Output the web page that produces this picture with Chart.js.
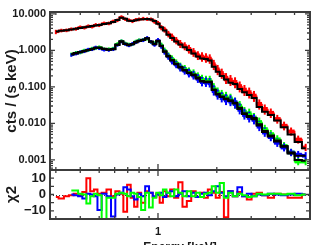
<!DOCTYPE html>
<html><head><meta charset="utf-8">
<script src="https://cdn.jsdelivr.net/npm/chart.js@4.4.1/dist/chart.umd.min.js"></script>
<style>
html,body{margin:0;padding:0;background:#fff;overflow:hidden;width:327px;height:245px;}
canvas{position:absolute;left:0;}
#top{top:0;}
#bot{top:168px;}
</style></head><body>
<canvas id="top" width="327" height="172"></canvas>
<canvas id="bot" width="327" height="100"></canvas>
<script>
// ---------- data ----------
const energies = [0.30,0.32,0.34,0.36,0.38,0.40,0.42,0.44,0.46,0.48,
  0.50,0.53,0.56,0.59,0.62,0.65,0.68,0.71,0.74,0.77,
  0.80,0.84,0.88,0.92,0.96,1.00,1.04,1.08,1.13,1.18,
  1.24,1.30,1.37,1.44,1.52,1.60,1.68,1.76,1.84,1.93,
  2.02,2.12,2.23,2.35,2.48,2.62,2.77,2.93,3.10,3.30,
  3.52,3.78,4.08,4.42,4.80,5.22,5.70];

const redCounts = [3.2,3.5,3.55,3.8,3.9,4.3,4.2,4.6,4.5,5.0,
  4.9,5.5,5.5,6.2,6.7,8.2,7.2,6.7,6.3,6.9,
  7.1,7.4,7.2,7.1,6.2,5.6,4.2,3.7,2.8,2.3,
  1.85,1.5,1.3,1.08,0.88,0.72,0.66,0.62,0.58,0.40,
  0.29,0.23,0.17,0.15,0.13,0.10,0.080,0.068,0.055,0.033,
  0.024,0.019,0.013,0.0085,0.0060,0.0036,0.0022];

const greenCounts = [null,null,null,0.78,0.86,0.88,0.99,1.02,1.12,1.15,
  1.22,1.08,1.08,1.12,1.5,1.8,1.55,1.45,1.48,1.75,
  1.9,1.95,2.1,1.7,1.55,1.8,1.40,1.0,0.72,0.58,
  0.45,0.36,0.31,0.26,0.23,0.19,0.16,0.15,0.15,0.092,
  0.07,0.06,0.052,0.046,0.036,0.029,0.020,0.018,0.014,0.0105,
  0.0068,0.0050,0.0036,0.0024,0.0016,0.0009,0.0009];

const blueCounts = [null,null,null,0.75,0.82,0.90,0.95,1.05,1.08,1.2,
  1.15,1.05,1.03,1.08,1.42,1.75,1.5,1.38,1.52,1.68,
  1.85,1.9,2.2,1.72,1.45,1.9,1.3,0.92,0.68,0.52,
  0.41,0.34,0.28,0.24,0.21,0.17,0.14,0.135,0.13,0.08,
  0.062,0.052,0.045,0.042,0.036,0.025,0.018,0.015,0.013,0.0085,
  0.0058,0.0043,0.0030,0.0022,0.0016,0.0014,0.0013];

const redModel = [3.3,3.45,3.6,3.75,3.95,4.15,4.3,4.45,4.65,4.85,
  5.0,5.3,5.6,6.0,6.8,7.9,7.4,6.5,6.4,6.7,
  7.0,7.2,7.3,7.0,6.4,5.4,4.3,3.5,2.7,2.2,
  1.75,1.45,1.22,1.02,0.82,0.68,0.60,0.58,0.53,0.36,
  0.26,0.20,0.16,0.13,0.12,0.088,0.072,0.060,0.050,0.028,
  0.021,0.017,0.012,0.0078,0.0050,0.0031,0.0021];

const greenModel = [null,null,null,0.80,0.85,0.90,0.97,1.03,1.10,1.18,
  1.20,1.12,1.06,1.10,1.45,1.78,1.52,1.40,1.50,1.70,
  1.85,1.95,2.15,1.75,1.50,1.85,1.35,0.95,0.70,0.55,
  0.43,0.35,0.29,0.25,0.22,0.18,0.145,0.14,0.14,0.085,
  0.065,0.055,0.048,0.043,0.037,0.027,0.019,0.016,0.014,0.0095,
  0.0062,0.0047,0.0034,0.0024,0.0015,0.0010,0.00095];

const blueModel = [null,null,null,0.78,0.83,0.89,0.95,1.02,1.08,1.16,
  1.17,1.10,1.04,1.08,1.42,1.74,1.49,1.38,1.48,1.66,
  1.82,1.92,2.12,1.72,1.47,1.82,1.32,0.92,0.68,0.53,
  0.42,0.34,0.28,0.24,0.21,0.17,0.14,0.135,0.135,0.082,
  0.062,0.053,0.046,0.041,0.035,0.025,0.018,0.015,0.013,0.0088,
  0.0058,0.0044,0.0032,0.0023,0.0016,0.0013,0.0013];

// half-height of the error bars, in decades
const redErr = [0.06,0.05,0.05,0.05,0.05,0.05,0.05,0.05,0.05,0.05,
  0.05,0.05,0.05,0.05,0.05,0.05,0.05,0.05,0.05,0.05,
  0.05,0.05,0.05,0.05,0.06,0.06,0.07,0.08,0.09,0.10,
  0.10,0.11,0.11,0.12,0.12,0.12,0.13,0.13,0.13,0.14,
  0.14,0.14,0.15,0.15,0.15,0.15,0.15,0.15,0.15,0.14,
  0.14,0.13,0.12,0.12,0.11,0.11,0.10];
const greenBlueErr = [null,null,null,0.05,0.05,0.05,0.05,0.05,0.05,0.05,
  0.05,0.05,0.05,0.05,0.05,0.05,0.05,0.05,0.05,0.05,
  0.05,0.05,0.05,0.05,0.06,0.06,0.07,0.08,0.09,0.10,
  0.10,0.11,0.11,0.12,0.12,0.12,0.13,0.13,0.13,0.14,
  0.14,0.14,0.15,0.15,0.15,0.15,0.15,0.15,0.14,0.14,
  0.13,0.12,0.12,0.11,0.10,0.10,0.10];

const redResid = [-1.5,-2.5,-1,-0.5,0.5,-0.5,1.5,10,2,3,
  0.5,1,3,-1,2,0.5,-10.5,6,-2,-7.5,
  1,-5,2,1,-1.5,0.5,-5,2,-1,3,
  -2,7.5,-7.5,-4,2,-1.5,1,-2,3,1,
  -2,1.5,-14,2,-1,1.5,-1,-3,0.5,1,
  -0.5,-2,0.5,0,-2,-2,0];
const greenResid = [null,null,null,2.5,2.5,0.5,0,-5.5,-1,0.5,
  -0.5,-18,-2,-2,0.5,1,0.5,-1,1,0.5,
  -1.5,-9.5,1,-8,-2,1,-0.5,3,1,-1,
  3,1,-1,2,-1,1,-1.5,0.5,1,5,
  1,7,-2,1,-1,0.5,-0.5,-1.5,-1,0.5,
  0,0.5,0.5,0,0.5,-0.5,0];
const blueResid = [null,null,null,0,-0.5,-1,-2.5,0.5,0,-1,
  -9.5,0.5,-1,-13.5,0,1,4.5,3,-1,-3,
  0.5,-1,5,1,-1,0,1,-1.5,1,2,
  -1,0.5,2,-1,1,-1.5,0.5,1,-0.5,2,
  5,1,-1,2,-1,4.5,-1,0.5,-1,0,
  -0.5,0.5,0,-0.5,0,0.5,0];

// axes
const xRange = [0.28, 6.0];
const xMajorTicks = [1];
const xMinorTicks = [0.3,0.4,0.5,0.6,0.7,0.8,0.9,2,3,4,5,6];
const xTickLabels = ['1'];
const yTopRange = [0.00053, 11.3];
const yTopTicks = [0.001,0.01,0.1,1,10];
const yTopTickLabels = ['0.001','0.010','0.100','1.000','10.000'];
const yResRange = [-15, 15];
const yResTicks = [-10,0,10];
const yResMinor = [-5,5];
const yResTickLabels = ['\u221210','0','10'];

// ---------- helpers ----------
const pts = ys => energies.map((e,i)=>({x:e,y:ys[i]})).filter(p=>p.y!==null && p.y!==undefined);
const FONT = 'Liberation Sans, Arial, Helvetica, sans-serif';
const INK = '#1a1a1a';
const FRAME = '#3c3c3c';
const noPad = s => { s.paddingTop=0; s.paddingBottom=0; s.paddingLeft=0; s.paddingRight=0; };

function topMinor(){
  const out=[];
  for (let d=-4; d<=1; d++) for (let m=2;m<=9;m++){const v=m*Math.pow(10,d); if(v>yTopRange[0]&&v<yTopRange[1]) out.push(v);}
  return out;
}

const framePlugin = {
  id:'frame',
  afterDatasetsDraw(chart, args, o){
    const {ctx, chartArea:a, scales:{x:xs, y:ys}} = chart;
    ctx.save();
    ctx.strokeStyle = FRAME;
    ctx.lineWidth = 1.3;
    ctx.beginPath();
    const seg=(x0,y0,x1,y1)=>{ctx.moveTo(x0,y0);ctx.lineTo(x1,y1);};
    const xt=(v,len)=>{const p=xs.getPixelForValue(v); if(p<a.left||p>a.right) return; seg(p,a.top,p,a.top+len); seg(p,a.bottom,p,a.bottom-len);};
    const yt=(v,len)=>{const p=ys.getPixelForValue(v); if(p<a.top||p>a.bottom) return; seg(a.left,p,a.left+len,p); seg(a.right,p,a.right-len,p);};
    xMinorTicks.forEach(v=>xt(v,3));
    xMajorTicks.forEach(v=>xt(v,6));
    (o.yMajor||[]).forEach(v=>yt(v,o.majLen||5));
    (o.yMinor||[]).forEach(v=>yt(v,o.minLen||3));
    ctx.stroke();
    ctx.lineWidth = 2;
    ctx.strokeRect(a.left, a.top, a.right-a.left, a.bottom-a.top);
    ctx.restore();
  }
};

// error boxes: each bin spans its step width and +/- err (decades)
const errPlugin = {
  id:'errbars',
  beforeDatasetsDraw(chart){
    const {ctx, chartArea:a, scales:{x:xs, y:ys}} = chart;
    ctx.save();
    ctx.beginPath(); ctx.rect(a.left,a.top,a.right-a.left,a.bottom-a.top); ctx.clip();
    const px = energies.map(e=>xs.getPixelForValue(e));
    const dsets = chart.data.datasets;
    for (let k=dsets.length-1;k>=0;k--){
      const ds = dsets[k];
      if(!ds.errDex) continue;
      ctx.fillStyle = ds.borderColor;
      ds.src.forEach((v,i)=>{
        if(v===null) return;
        const e = ds.errDex[i];
        const l = (i>0 && ds.src[i-1]!==null) ? (px[i-1]+px[i])/2 : px[i];
        const r = (i<px.length-1) ? (px[i]+px[i+1])/2 : px[i];
        const yh = ys.getPixelForValue(v*Math.pow(10,e));
        const yl = ys.getPixelForValue(v*Math.pow(10,-e));
        ctx.fillRect(px[i]-1, yh, 2, yl-yh);
        ctx.fillRect(l, yh+(yl-yh)*0.25, r-l, (yl-yh)*0.5);
      });
    }
    ctx.restore();
  }
};

const zeroPlugin = {
  id:'zeroline',
  beforeDatasetsDraw(chart){
    const {ctx, chartArea:a, scales:{y:ys}} = chart;
    const p = Math.round(ys.getPixelForValue(0))+0.5;
    ctx.save(); ctx.strokeStyle='#333'; ctx.lineWidth=1; ctx.setLineDash([1,2]);
    ctx.beginPath(); ctx.moveTo(a.left,p); ctx.lineTo(a.right,p); ctx.stroke(); ctx.restore();
  }
};

const line = (label, ys, color, width, extra) => Object.assign({
  label, data: pts(ys), borderColor: color, backgroundColor: color,
  borderWidth: width, stepped: 'middle', pointRadius: 0, fill: false
}, extra||{});

// ---------- top panel ----------
new Chart(document.getElementById('top'), {
  type:'line',
  data:{datasets:[
    line('model 1', redModel, '#000000', 2),
    line('model 2', greenModel, '#000000', 2),
    line('model 3', blueModel, '#000000', 2),
    line('data 3', blueCounts, '#0000ff', 1.6, {errDex: greenBlueErr, src: blueCounts}),
    line('data 2', greenCounts, '#00ff00', 1.6, {errDex: greenBlueErr, src: greenCounts}),
    line('data 1', redCounts, '#ff0000', 1.6, {errDex: redErr, src: redCounts})
  ]},
  options:{
    responsive:false, animation:false, devicePixelRatio:1,
    layout:{padding:{left:0,right:17,top:12,bottom:2}},
    plugins:{legend:{display:false}, tooltip:{enabled:false},
      frame:{yMajor:yTopTicks, yMinor:topMinor(), majLen:5, minLen:3}},
    scales:{
      x:{type:'logarithmic', min:xRange[0], max:xRange[1], display:false},
      y:{type:'logarithmic', min:yTopRange[0], max:yTopRange[1], bounds:'data',
        afterFit(s){s.width=50; noPad(s);},
        afterBuildTicks(s){s.ticks=yTopTicks.map(v=>({value:v}));},
        grid:{display:false, drawTicks:false}, border:{display:false},
        ticks:{padding:4, color:INK, autoSkip:false, font:{family:FONT,size:11,weight:'bold'},
          callback:(v,i)=>yTopTickLabels[i]},
        title:{display:true, text:'cts / (s keV)', color:INK,
          font:{family:FONT,size:15,weight:'bold'}, padding:{top:3,bottom:0}}
      }
    }
  },
  plugins:[errPlugin, framePlugin]
});

// ---------- residual panel ----------
new Chart(document.getElementById('bot'), {
  type:'line',
  data:{datasets:[
    line('resid 2', greenResid, '#00ff00', 2),
    line('resid 3', blueResid, '#0000ff', 2),
    line('resid 1', redResid, '#ff0000', 2)
  ]},
  options:{
    responsive:false, animation:false, devicePixelRatio:1,
    layout:{padding:{left:0,right:17,top:2,bottom:0}},
    plugins:{legend:{display:false}, tooltip:{enabled:false},
      frame:{yMajor:yResTicks, yMinor:yResMinor, majLen:4, minLen:4}},
    scales:{
      x:{type:'logarithmic', min:xRange[0], max:xRange[1], bounds:'data',
        afterFit(s){s.height=49; noPad(s);},
        afterBuildTicks(s){s.ticks=xMajorTicks.map(v=>({value:v}));},
        grid:{display:false, drawTicks:false}, border:{display:false},
        ticks:{padding:6, color:INK, autoSkip:false, maxRotation:0, font:{family:FONT,size:11,weight:'bold'},
          callback:(v,i)=>xTickLabels[i]},
        title:{display:true, text:'Energy [keV]', color:INK,
          font:{family:FONT,size:12,weight:'bold'}, padding:{top:0,bottom:13}}
      },
      y:{type:'linear', min:yResRange[0], max:yResRange[1],
        afterFit(s){s.width=50; noPad(s);},
        afterBuildTicks(s){s.ticks=yResTicks.map(v=>({value:v}));},
        grid:{display:false, drawTicks:false}, border:{display:false},
        ticks:{padding:4, color:INK, autoSkip:false, font:{family:FONT,size:13,weight:'bold'},
          callback:(v,i)=>yResTickLabels[i]},
        title:{display:true, text:'\u03c72', color:INK,
          font:{family:FONT,size:15,weight:'bold'}, padding:{top:3,bottom:0}}
      }
    }
  },
  plugins:[zeroPlugin, framePlugin]
});
</script>
</body></html>
